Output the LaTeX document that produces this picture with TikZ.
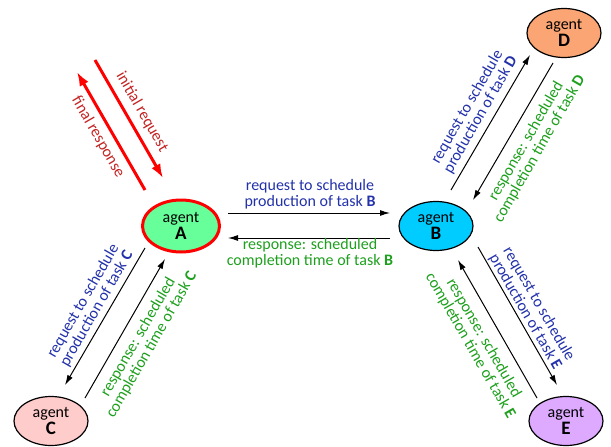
\documentclass[tikz,border=0pt]{standalone}
\usepackage{fontspec}
\setmainfont{Carlito}
\usetikzlibrary{shapes.geometric,arrows.meta}
\definecolor{reqblue}{RGB}{35,50,170}
\definecolor{respgreen}{RGB}{30,160,30}
\definecolor{userred}{RGB}{195,35,35}
\definecolor{fillA}{RGB}{102,255,153}
\definecolor{fillB}{RGB}{0,204,255}
\definecolor{fillC}{RGB}{255,204,204}
\definecolor{fillD}{RGB}{250,165,115}
\definecolor{fillE}{RGB}{221,170,255}

\begin{document}
\begin{tikzpicture}[x=1pt,y=-1pt,
	agent/.style={ellipse,draw,line width=1.2pt,minimum width=74pt,minimum height=49pt,inner sep=0pt,align=center,font=\fontsize{16}{16}\selectfont},
	msg/.style={line width=1pt,-{Latex[length=10pt,width=6pt]}},
	user/.style={red,line width=3pt,-{Latex[length=14pt,width=10pt]}},
	req/.style={text=reqblue,align=center,font=\fontsize{16}{15.5}\selectfont},
	resp/.style={text=respgreen,align=center,font=\fontsize{16}{15.5}\selectfont}]
	\useasboundingbox (0,0) rectangle (611,447);
	% agents
	\node[agent,fill=fillA,draw=red,line width=3pt,minimum width=77pt,minimum height=52pt] (A) at (181,226) {agent\\[1pt]{\fontsize{19}{19}\selectfont\bfseries A}};
	\foreach \n/\x/\y in {B/436/226,C/51/421,D/564/33,E/566/421}
		\node[agent,fill=fill\n] (\n) at (\x,\y) {agent\\[1pt]{\fontsize{19}{19}\selectfont\bfseries \n}};
	% user
	\coordinate (userin) at (95,60);
	\coordinate (userout) at (77,72);
	\draw[user] (userin) -- ([shift={(-18,-48)}]A.center);
	\draw[user] ([shift={(-36,-36)}]A.center) -- (userout);
	\node[text=userred,font=\fontsize{16}{16}\selectfont,rotate=-60] (initreq) at (142,112) {initial request};
	\node[text=userred,font=\fontsize{16}{16}\selectfont,rotate=-60] (finresp) at (98,137) {final response};
	% A <-> B
	\draw[msg] ([shift={(47,-13)}]A.center) -- ([shift={(-46,-13)}]B.center);
	\draw[msg] ([shift={(-46,12)}]B.center) -- ([shift={(47,12)}]A.center);
	\node[req] (reqB) at (310,194) {request to schedule\\production of task \textbf{B}};
	\node[resp] (respB) at (310,253) {response: scheduled\\completion time of task \textbf{B}};
	% B <-> D
	\draw[msg] ([shift={(15,-36)}]B.center) -- ([shift={(-34,22)}]D.center);
	\draw[msg] ([shift={(-11,30)}]D.center) -- ([shift={(37,-26)}]B.center);
	\node[req,rotate=60] (reqD) at (474,111) {request to schedule\\production of task \textbf{D}};
	\node[resp,rotate=60] (respD) at (533,145) {response: scheduled\\completion time of task \textbf{D}};
	% B <-> E
	\draw[msg] ([shift={(42,21)}]B.center) -- ([shift={(-9,-36)}]E.center);
	\draw[msg] ([shift={(-29,-23)}]E.center) -- ([shift={(22,34)}]B.center);
	\node[req,rotate=-60] (reqE) at (532,308) {request to schedule\\production of task \textbf{E}};
	\node[resp,rotate=-60] (respE) at (477,342) {response: scheduled\\completion time of task \textbf{E}};
	% A <-> C
	\draw[msg] ([shift={(-36,22)}]A.center) -- ([shift={(14,-36)}]C.center);
	\draw[msg] ([shift={(34,-23)}]C.center) -- ([shift={(-16,33)}]A.center);
	\node[req,rotate=60] (reqC) at (90,305) {request to schedule\\production of task \textbf{C}};
	\node[resp,rotate=60] (respC) at (145,341) {response: scheduled\\completion time of task \textbf{C}};
\end{tikzpicture}
\end{document}
